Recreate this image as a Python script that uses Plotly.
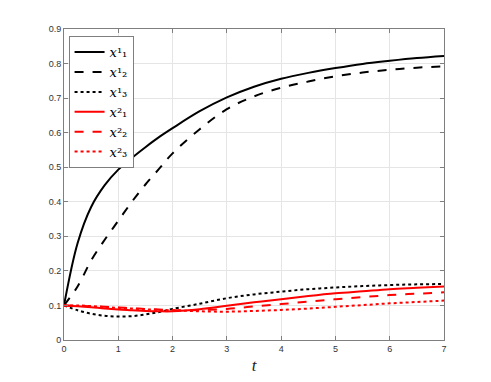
import plotly.graph_objects as go

t = [0, 0.25, 0.5, 0.75, 1, 1.25, 1.5, 1.75, 2, 2.5, 3, 3.5, 4, 4.5, 5, 5.5, 6, 6.5, 7]

x11 = [0.1, 0.28, 0.385, 0.448, 0.493, 0.527, 0.558, 0.587, 0.613, 0.662, 0.702, 0.733, 0.756, 0.773, 0.787, 0.799, 0.808, 0.816, 0.822]
x21 = [0.1, 0.155, 0.23, 0.29, 0.345, 0.40, 0.45, 0.495, 0.54, 0.61, 0.668, 0.705, 0.73, 0.748, 0.763, 0.774, 0.782, 0.788, 0.792]
x31 = [0.1, 0.086, 0.076, 0.07, 0.068, 0.069, 0.074, 0.081, 0.09, 0.105, 0.121, 0.132, 0.14, 0.147, 0.152, 0.156, 0.159, 0.161, 0.162]
x12 = [0.1, 0.098, 0.095, 0.091, 0.088, 0.086, 0.084, 0.083, 0.083, 0.089, 0.099, 0.109, 0.118, 0.127, 0.135, 0.141, 0.147, 0.151, 0.155]
x22 = [0.1, 0.099, 0.098, 0.096, 0.094, 0.092, 0.09, 0.088, 0.086, 0.087, 0.09, 0.097, 0.104, 0.111, 0.118, 0.124, 0.13, 0.134, 0.138]
x32 = [0.1, 0.1, 0.098, 0.095, 0.093, 0.091, 0.089, 0.087, 0.086, 0.083, 0.082, 0.084, 0.087, 0.091, 0.096, 0.101, 0.106, 0.11, 0.114]

names = ['<i>x</i>¹₁', '<i>x</i>¹₂', '<i>x</i>¹₃',
         '<i>x</i>²₁', '<i>x</i>²₂', '<i>x</i>²₃']
series = [x11, x21, x31, x12, x22, x32]
colors = ['black', 'black', 'black', 'red', 'red', 'red']
dashes = ['solid', 'dash', 'dot', 'solid', 'dash', 'dot']

fig = go.Figure()
for y, n, c, d in zip(series, names, colors, dashes):
    fig.add_trace(go.Scatter(x=t, y=y, name=n, mode='lines', line_shape='spline',
                             line=dict(color=c, dash=d, width=2)))

axis_style = dict(showline=True, linecolor='#7f7f7f', linewidth=1, mirror='ticks',
                  ticks='inside', ticklen=4, tickcolor='#7f7f7f',
                  showgrid=True, gridcolor='#e5e5e5', zeroline=False,
                  tickfont=dict(family='Liberation Sans', size=9, color='#333333'))

fig.update_xaxes(range=[0, 7], dtick=1,
                 title=dict(text='<i>t</i>', font=dict(family='Liberation Serif', size=17, color='#222222'),
                            standoff=6),
                 **axis_style)
fig.update_yaxes(range=[0, 0.9], dtick=0.1, tickformat='.1~f', **axis_style)

# page body adds 8px offset, so margins compensate
fig.update_layout(
    width=491, height=382,
    margin=dict(l=56, r=55, t=21, b=50),
    paper_bgcolor='white', plot_bgcolor='white',
    showlegend=True,
    legend=dict(x=0.012, y=0.977, xanchor='left', yanchor='top',
                bgcolor='white', bordercolor='#7f7f7f', borderwidth=1,
                font=dict(family='DejaVu Serif', size=13, color='black'),
                tracegroupgap=0, itemwidth=30),
)

fig.write_html("out.html")
